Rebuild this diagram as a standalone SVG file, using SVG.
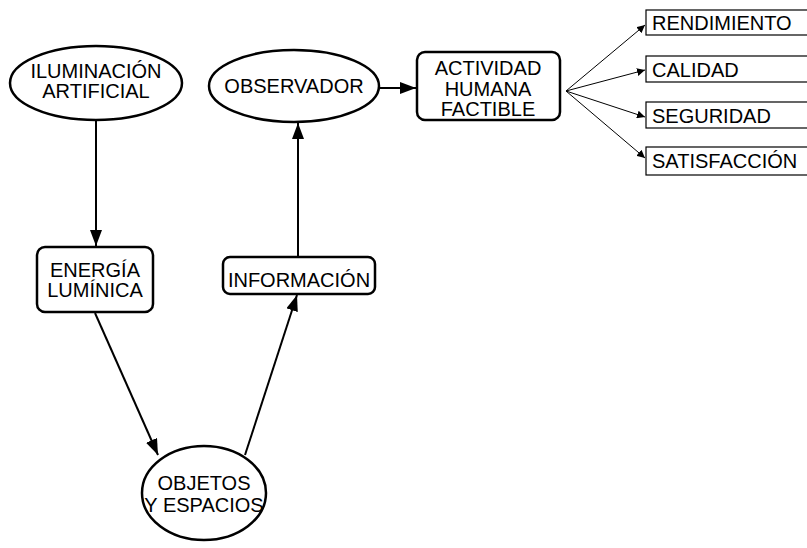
<svg xmlns="http://www.w3.org/2000/svg" width="807" height="548" viewBox="0 0 807 548">
<style>
.n{fill:#fff;stroke:#000;stroke-width:2.5}
.b{fill:#fff;stroke:#000;stroke-width:1.2}
.t{font-family:"Liberation Sans",Arial,sans-serif;font-size:20px;fill:#000;text-anchor:middle}
.tl{font-family:"Liberation Sans",Arial,sans-serif;font-size:20px;fill:#000}
.c{stroke:#000;stroke-width:2;fill:none}
.f{stroke:#000;stroke-width:1;fill:none}
</style>
<defs>
<marker id="a" viewBox="0 0 10 10" refX="10" refY="5" markerWidth="8" markerHeight="8" markerUnits="userSpaceOnUse" orient="auto"><path d="M0,0 L10,5 L0,10 Z" fill="#000"/></marker>
<marker id="A" viewBox="0 0 10 10" refX="10" refY="5" markerWidth="16" markerHeight="12" markerUnits="userSpaceOnUse" orient="auto" preserveAspectRatio="none"><path d="M0,0 L10,5 L0,10 Z" fill="#000"/></marker>
</defs>
<g id="connectors">
<path class="c" d="M96,121 L96,246" marker-end="url(#A)"/>
<path class="c" d="M95,313 L158,455" marker-end="url(#A)"/>
<path class="c" d="M245,455 L297,295" marker-end="url(#A)"/>
<path class="c" d="M298,256 L298,123" marker-end="url(#A)"/>
<path class="c" d="M379,88 L416,88" marker-end="url(#A)"/>
<path class="f" d="M566,91 L645,25" marker-end="url(#a)"/>
<path class="f" d="M566,91 L645,70" marker-end="url(#a)"/>
<path class="f" d="M566,91 L645,117" marker-end="url(#a)"/>
<path class="f" d="M566,91 L645,158" marker-end="url(#a)"/>
</g>
<g id="iluminacion">
<ellipse class="n" cx="96" cy="83" rx="86" ry="37"/>
<text class="t" x="96" y="78">ILUMINACIÓN</text>
<text class="t" x="96" y="98">ARTIFICIAL</text>
</g>
<g id="observador">
<ellipse class="n" cx="294" cy="86" rx="85" ry="36"/>
<text class="t" x="294" y="93">OBSERVADOR</text>
</g>
<g id="actividad">
<rect class="n" x="417" y="52" width="143" height="68" rx="8"/>
<text class="t" x="488" y="75">ACTIVIDAD</text>
<text class="t" x="488" y="96">HUMANA</text>
<text class="t" x="488" y="116">FACTIBLE</text>
</g>
<g id="energia">
<rect class="n" x="37" y="247" width="116" height="65" rx="8"/>
<text class="t" x="95" y="277">ENERGÍA</text>
<text class="t" x="95" y="297">LUMÍNICA</text>
</g>
<g id="informacion">
<rect class="n" x="223" y="257" width="152" height="37" rx="7"/>
<text class="t" x="299" y="287">INFORMACIÓN</text>
</g>
<g id="objetos">
<ellipse class="n" cx="204" cy="493" rx="62" ry="47"/>
<text class="t" x="204" y="490">OBJETOS</text>
<text class="t" x="204" y="512">Y ESPACIOS</text>
</g>
<g id="rendimiento">
<rect class="b" x="646" y="10" width="170" height="25"/>
<text class="tl" x="652" y="30">RENDIMIENTO</text>
</g>
<g id="calidad">
<rect class="b" x="646" y="56" width="170" height="26"/>
<text class="tl" x="652" y="77">CALIDAD</text>
</g>
<g id="seguridad">
<rect class="b" x="646" y="102" width="170" height="26"/>
<text class="tl" x="652" y="123">SEGURIDAD</text>
</g>
<g id="satisfaccion">
<rect class="b" x="646" y="147" width="170" height="28"/>
<text class="tl" x="652" y="168">SATISFACCIÓN</text>
</g>
</svg>
